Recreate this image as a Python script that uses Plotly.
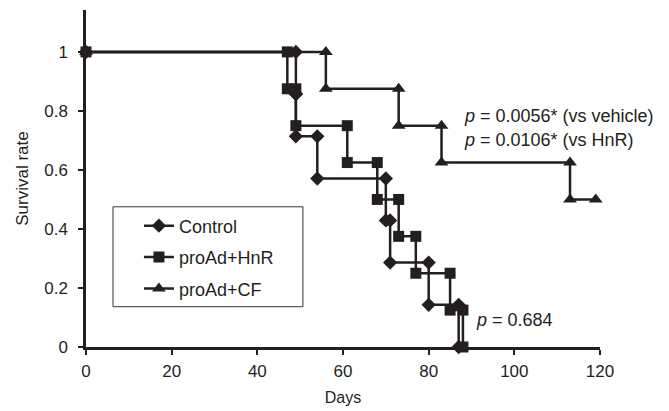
import plotly.graph_objects as go

# ---- data (Kaplan-Meier event times and survival after each event) ----
control_days = [0, 49, 49, 54, 70, 71, 80, 87]
control_surv = [1.0, 0.857, 0.714, 0.571, 0.429, 0.286, 0.143, 0.0]

hnr_days = [0, 47, 49, 61, 68, 73, 77, 85, 88]
hnr_surv = [1.0, 0.875, 0.75, 0.625, 0.5, 0.375, 0.25, 0.125, 0.0]

cf_days = [0, 56, 73, 83, 113]
cf_surv = [1.0, 0.875, 0.75, 0.625, 0.5]
cf_last_day = 119

y_ticks = [0, 0.2, 0.4, 0.6, 0.8, 1]
y_tick_labels = ["0", "0.2", "0.4", "0.6", "0.8", "1"]
x_ticks = [0, 20, 40, 60, 80, 100, 120]

series_names = ["Control", "proAd+HnR", "proAd+CF"]


def km_corners(days, surv, end_day=None):
    xs, ys = [days[0]], [surv[0]]
    for i in range(1, len(days)):
        xs += [days[i], days[i]]
        ys += [surv[i - 1], surv[i]]
    if end_day is not None:
        xs.append(end_day)
        ys.append(surv[-1])
    return xs, ys


INK = "#231f20"
FONT = "Liberation Sans, Arial, sans-serif"

fig = go.Figure()
specs = [
    (control_days, control_surv, None, "diamond", 11),
    (hnr_days, hnr_surv, None, "square", 11),
    (cf_days, cf_surv, cf_last_day, "triangle-up", 12),
]
for i, (d, s, e, sym, sz) in enumerate(specs):
    xs, ys = km_corners(d, s, e)
    fig.add_trace(go.Scatter(
        x=xs, y=ys, mode="lines+markers", name=series_names[i],
        legendgroup=series_names[i],
        line=dict(color=INK, width=2.5),
        marker=dict(symbol=sym, size=sz, color=INK, line=dict(width=0)),
        cliponaxis=False,
    ))

ann_font = dict(family=FONT, size=18, color=INK)
fig.add_annotation(x=87.7, y=0.782, xref="x", yref="y", text="<i>p</i> = 0.0056* (vs vehicle)",
                   showarrow=False, xanchor="left", yanchor="middle", font=ann_font)
fig.add_annotation(x=87.7, y=0.703, xref="x", yref="y", text="<i>p</i> = 0.0106* (vs HnR)",
                   showarrow=False, xanchor="left", yanchor="middle", font=ann_font)
fig.add_annotation(x=90.5, y=0.0925, xref="x", yref="y", text="<i>p</i> = 0.684",
                   showarrow=False, xanchor="left", yanchor="middle", font=ann_font)

# legend frame
fig.add_shape(type="rect", xref="paper", yref="paper",
              x0=0.0525, x1=0.422, y0=0.1195, y1=0.416,
              line=dict(color="#333333", width=1), fillcolor="white", layer="below")

fig.update_layout(
    width=669, height=411,
    margin=dict(l=86, r=69, t=10, b=64, autoexpand=False),
    paper_bgcolor="white", plot_bgcolor="white",
    font=dict(family=FONT, color=INK),
    showlegend=True,
    legend=dict(x=0.103, y=0.414, xanchor="left", yanchor="top",
                bgcolor="rgba(0,0,0,0)", borderwidth=0,
                traceorder="grouped", tracegroupgap=5,
                font=dict(family=FONT, size=18, color=INK)),
    xaxis=dict(range=[0, 120], tickmode="array", tickvals=x_ticks,
               showline=True, linecolor=INK, linewidth=2.5,
               ticks="outside", ticklen=5, tickwidth=2, tickcolor=INK,
               showgrid=False, zeroline=False, automargin=False,
               ticklabelstandoff=2,
               tickfont=dict(family=FONT, size=17, color=INK),
               title=dict(text="Days", font=dict(family=FONT, size=16, color=INK), standoff=12)),
    yaxis=dict(range=[0, 1.142], tickmode="array", tickvals=y_ticks, ticktext=y_tick_labels,
               showline=True, linecolor=INK, linewidth=2.5,
               ticks="outside", ticklen=5, tickwidth=2, tickcolor=INK,
               showgrid=False, zeroline=False, automargin=False,
               ticklabelstandoff=7,
               tickfont=dict(family=FONT, size=17, color=INK),
               title=dict(text="Survival rate", font=dict(family=FONT, size=17, color=INK), standoff=12)),
)

fig.write_html("out.html", config={"displayModeBar": False},
               post_script="document.body.style.margin='0px';")
